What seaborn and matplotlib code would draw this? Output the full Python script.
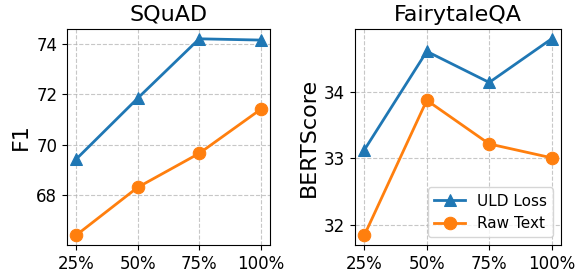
import matplotlib
matplotlib.use("Agg")
import matplotlib.pyplot as plt
import seaborn as sns
import pandas as pd

ratios = ["25%", "50%", "75%", "100%"]
squad_uld = [69.42, 71.84, 74.2, 74.15]
squad_raw = [66.4, 68.3, 69.65, 71.4]
fairy_uld = [33.13, 34.62, 34.15, 34.81]
fairy_raw = [31.84, 33.88, 33.22, 33.01]

series_names = ["ULD Loss", "Raw Text"]
palette = {"ULD Loss": "#1f77b4", "Raw Text": "#ff7f0e"}
markers = {"ULD Loss": "^", "Raw Text": "o"}


def to_long(uld, raw):
    rows = []
    for i, r in enumerate(ratios):
        rows.append({"x": i, "ratio": r, "value": uld[i], "method": "ULD Loss"})
        rows.append({"x": i, "ratio": r, "value": raw[i], "method": "Raw Text"})
    return pd.DataFrame(rows)


fig = plt.figure(figsize=(5.84, 2.73), dpi=100)
ax_left = fig.add_axes([0.1147, 0.1026, 0.3476, 0.7912])
ax_right = fig.add_axes([0.6079, 0.1026, 0.3527, 0.7912])

panels = [
    (ax_left, to_long(squad_uld, squad_raw), "SQuAD", "F1", [68, 70, 72, 74]),
    (ax_right, to_long(fairy_uld, fairy_raw), "FairytaleQA", "BERTScore", [32, 33, 34]),
]

for ax, df, title, ylabel, yticks in panels:
    for name in series_names:
        sub = df[df["method"] == name]
        sns.lineplot(data=sub, x="x", y="value", ax=ax, color=palette[name],
                     marker=markers[name], markersize=9, linewidth=2,
                     markeredgecolor=palette[name], label=name)
    ax.set_xticks(range(len(ratios)))
    ax.set_xticklabels(ratios)
    ax.set_yticks(yticks)
    ax.set_title(title, fontsize=16)
    ax.set_ylabel(ylabel, fontsize=16)
    ax.set_xlabel("")
    ax.tick_params(labelsize=12)
    ax.grid(True, linestyle="--", color="#b0b0b0", alpha=0.7)

ax_left.get_legend().remove()
ax_right.legend(loc="lower right", fontsize=11)

fig.savefig("out.png", dpi=100)
